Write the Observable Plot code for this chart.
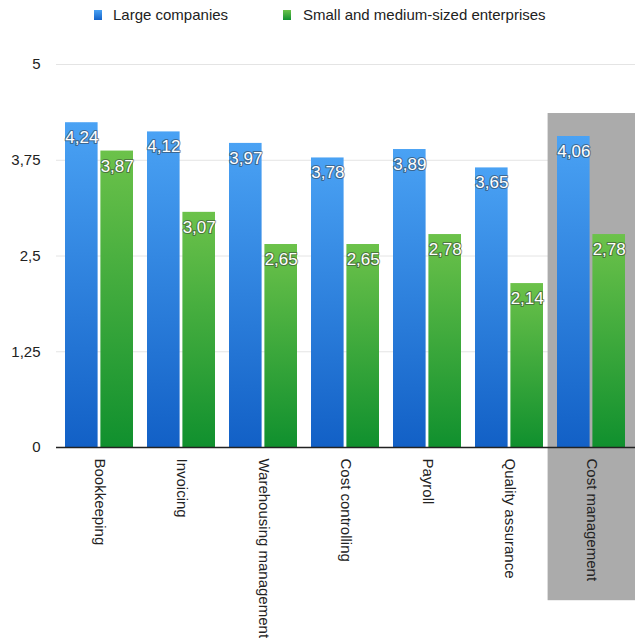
<!DOCTYPE html>
<html>
<head>
<meta charset="utf-8">
<script src="https://cdn.jsdelivr.net/npm/d3@7"></script>
<script src="https://cdn.jsdelivr.net/npm/@observablehq/plot@0.6"></script>
<style>
  html, body { margin: 0; padding: 0; background: #fff; }
  #legend { position: relative; width: 635px; height: 32px; font-family: "Liberation Sans", Arial, sans-serif; font-size: 15px; color: #222; }
  #legend .sw { position: absolute; top: 10px; width: 8px; height: 10px; }
  #legend .lb { position: absolute; top: 6px; line-height: 17px; white-space: nowrap; }
</style>
</head>
<body>
<div id="legend"></div>
<div id="chart"></div>
<script>
const categories = ["Bookkeeping", "Invoicing", "Warehousing management", "Cost controlling", "Payroll", "Quality assurance", "Cost management"];
const large = [4.24, 4.12, 3.97, 3.78, 3.89, 3.65, 4.06];
const sme = [3.87, 3.07, 2.65, 2.65, 2.78, 2.14, 2.78];
const seriesNames = ["Large companies", "Small and medium-sized enterprises"];
const yTicks = [0, 1.25, 2.5, 3.75, 5];
const highlight = "Cost management";

const fmt = v => String(v).replace(".", ",");

// legend
const legend = document.getElementById("legend");
legend.innerHTML = `
  <div class="sw" style="left:94px;background:linear-gradient(#4aa2f4,#1462c8)"></div>
  <div class="lb" style="left:113px">${seriesNames[0]}</div>
  <div class="sw" style="left:283px;background:linear-gradient(#6cc24a,#129030)"></div>
  <div class="lb" style="left:303px">${seriesNames[1]}</div>`;

const rows = categories.map((c, i) => ({category: c, large: large[i], sme: sme[i]}));

const inset = 35.4;
const chart = Plot.plot({
  width: 635,
  height: 606,
  marginLeft: 56,
  marginRight: 0,
  marginTop: 32,
  marginBottom: 191,
  style: {fontFamily: "'Liberation Sans', Arial, sans-serif", background: "#fff", color: "#222"},
  x: {domain: categories, paddingInner: 0.17, paddingOuter: 0.097},
  y: {domain: [0, 5]},
  marks: [
    Plot.gridY(yTicks, {stroke: "#e4e4e4", strokeOpacity: 1}),
    Plot.barY([highlight], {x: d => d, y1: -2, y2: 4.36, fill: "#ababab", insetLeft: -9.4, insetRight: -12}),
    Plot.barY(rows, {x: "category", y: "large", fill: "url(#gBlue)", insetRight: inset}),
    Plot.barY(rows, {x: "category", y: "sme", fill: "url(#gGreen)", insetLeft: inset}),
    Plot.ruleY([0], {stroke: "#222", strokeWidth: 1.5}),
    Plot.text(rows, {x: "category", y: "large", text: d => fmt(d.large), dx: -17.7, dy: 15, fill: "#fff", stroke: "#333", strokeWidth: 2.2, strokeOpacity: 0.5, fontSize: 17}),
    Plot.text(rows, {x: "category", y: "sme", text: d => fmt(d.sme), dx: 17.7, dy: 15, fill: "#fff", stroke: "#333", strokeWidth: 2.2, strokeOpacity: 0.5, fontSize: 17}),
    Plot.axisY(yTicks, {tickSize: 0, tickPadding: 16, fontSize: 15, tickFormat: fmt}),
    Plot.axisX({tickRotate: 90, tickSize: 0, tickPadding: 11, fontSize: 15, lineWidth: 100, label: null})
  ]
});

const svg = d3.select(chart);
const defs = svg.insert("defs", ":first-child");
const gb = defs.append("linearGradient").attr("id", "gBlue").attr("x1", 0).attr("y1", 0).attr("x2", 0).attr("y2", 1);
gb.append("stop").attr("offset", "0%").attr("stop-color", "#4aa2f4");
gb.append("stop").attr("offset", "100%").attr("stop-color", "#1260c6");
const gg = defs.append("linearGradient").attr("id", "gGreen").attr("x1", 0).attr("y1", 0).attr("x2", 0).attr("y2", 1);
gg.append("stop").attr("offset", "0%").attr("stop-color", "#6cc24a");
gg.append("stop").attr("offset", "100%").attr("stop-color", "#10902e");

document.getElementById("chart").appendChild(chart);
</script>
</body>
</html>
